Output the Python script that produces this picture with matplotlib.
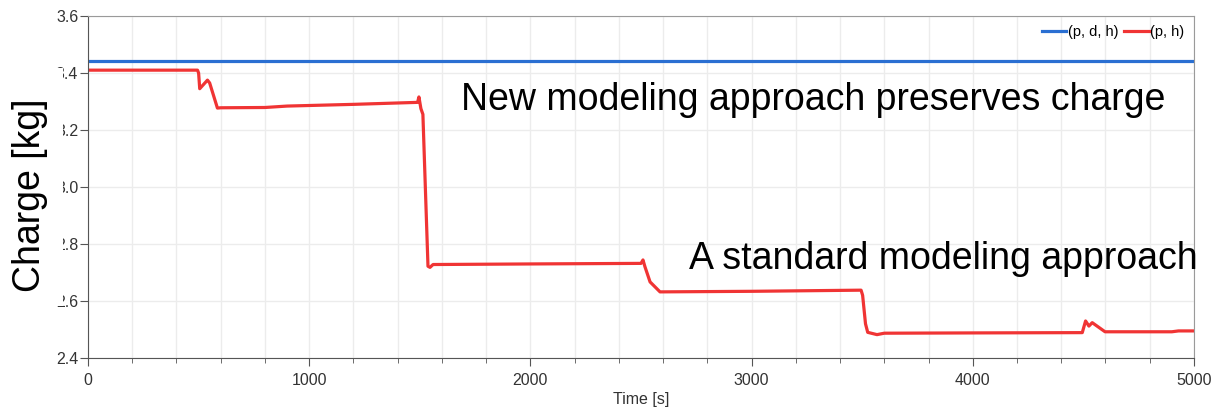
import matplotlib.pyplot as plt
from matplotlib.patches import Rectangle
from matplotlib.ticker import MultipleLocator

plt.rcParams['font.family'] = ['Liberation Sans', 'DejaVu Sans']

# charge in the system over time for the two state formulations
time_pdh = [0, 5000]
charge_pdh = [3.442, 3.442]

time_ph = [0, 495, 500, 505, 540, 550, 585, 600, 800, 900, 1200, 1490, 1496,
           1505, 1514, 1525, 1537, 1546, 1560, 2000, 2500, 2509, 2518, 2541,
           2586, 3000, 3495, 3502, 3515, 3525, 3567, 3600, 4000, 4495, 4510,
           4525, 4540, 4598, 4900, 4930, 5000]
charge_ph = [3.410, 3.410, 3.400, 3.345, 3.375, 3.365, 3.277, 3.278, 3.279,
             3.284, 3.290, 3.297, 3.316, 3.275, 3.255, 3.000, 2.722, 2.718,
             2.728, 2.730, 2.732, 2.744, 2.720, 2.667, 2.632, 2.634, 2.638,
             2.620, 2.520, 2.490, 2.482, 2.487, 2.488, 2.489, 2.530, 2.512,
             2.524, 2.492, 2.492, 2.495, 2.495]

W, H = 1214, 417
fig = plt.figure(figsize=(W / 100, H / 100), dpi=100)
ax = fig.add_axes([0.0725, 0.1415, 0.911, 0.8201])

ax.plot(time_pdh, charge_pdh, color='#2a6fd2', lw=2.3, label='(p, d, h)')
ax.plot(time_ph, charge_ph, color='#f03434', lw=2.3, label='(p, h)')

ax.set_xlim(0, 5000)
ax.set_ylim(2.4, 3.6)
ax.xaxis.set_major_locator(MultipleLocator(1000))
ax.xaxis.set_minor_locator(MultipleLocator(200))
ax.yaxis.set_major_locator(MultipleLocator(0.2))
ax.yaxis.set_major_formatter(plt.FormatStrFormatter('%.1f'))

ax.grid(which='both', color='#ececec', lw=1)
ax.set_axisbelow(True)
for side in ['top', 'right']:
    ax.spines[side].set_color('#9a9a9a')
for side in ['left', 'bottom']:
    ax.spines[side].set_color('#555555')
ax.tick_params(which='both', colors='#555555', labelcolor='#333333',
               labelsize=11.5)
ax.tick_params(which='major', length=6)
ax.tick_params(which='minor', length=3.5)
ax.tick_params(axis='x', pad=5)
ax.tick_params(axis='y', pad=1)

ax.set_xlabel('Time [s]', fontsize=11.5, color='#333333', labelpad=3)

leg = ax.legend(loc='upper right', ncol=2, frameon=False, fontsize=10.5,
                handlelength=1.7, handletextpad=0.1, columnspacing=0.4,
                borderaxespad=0.25)

ax.text(0.974, 0.755, 'New modeling approach preserves charge',
        transform=ax.transAxes, ha='right', va='center', fontsize=27)
ax.text(1.003, 0.29, 'A standard modeling approach',
        transform=ax.transAxes, ha='right', va='center', fontsize=27)

# white block behind the big y label, laid over the tick labels
fig.patches.append(Rectangle((0, 1 - 306 / H), 63 / W, 238 / H,
                             transform=fig.transFigure, facecolor='white',
                             edgecolor='none', zorder=2))
fig.text(0.025, 0.532, 'Charge [kg]', rotation=90, ha='center', va='center',
         fontsize=27, zorder=3)

plt.savefig('out.png', dpi=100)
